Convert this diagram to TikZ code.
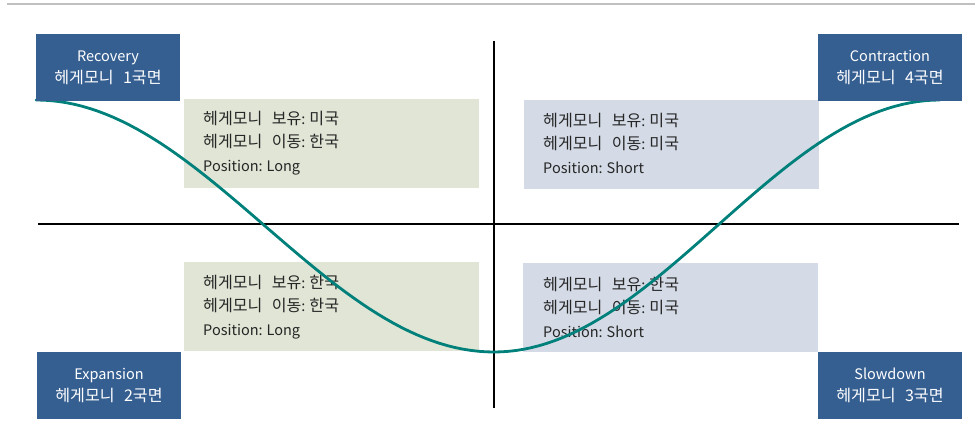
\documentclass[tikz,border=0pt]{standalone}
\usepackage{fontspec}
\setmainfont[WordSpace=2.4]{Noto Sans CJK KR}
\newfontfamily\kr[Scale=1.11,WordSpace=2.6]{Noto Sans CJK KR}
\definecolor{labelblue}{HTML}{365F91}
\definecolor{olivebox}{HTML}{E0E5D5}
\definecolor{bluebox}{HTML}{D4DBE6}
\definecolor{curveteal}{HTML}{00807A}
\definecolor{topgray}{HTML}{C0C0C0}
\definecolor{boxtext}{HTML}{262626}
\newcommand{\colsep}{:\hspace{4pt}}
\begin{document}
\begin{tikzpicture}[x=1pt,y=-1pt,
  phase/.style={fill=labelblue,text=white,minimum width=144pt,minimum height=67pt,inner sep=0pt,align=center,font=\fontsize{14.5}{22}\selectfont},
  infobox/.style={minimum width=295pt,minimum height=89pt,inner sep=0pt},
  infotext/.style={text=boxtext,align=left,anchor=west,inner sep=0pt,font=\fontsize{14.5}{23.5}\selectfont},
  axis/.style={draw=black,line width=1.5pt},
  wave/.style={draw=curveteal,line width=2.8pt,line cap=round}]
\useasboundingbox (0,0) rectangle (975,443);
% top rule
\draw[topgray,line width=2.5pt] (7,4) -- (975,4);
% info boxes
\node[infobox,fill=olivebox] (tl) at (331.5,143.5) {};
\node[infobox,fill=bluebox] (tr) at (671.5,144.5) {};
\node[infobox,fill=olivebox] (bl) at (331.5,307) {};
\node[infobox,fill=bluebox] (br) at (670.5,308) {};
\node[infotext] (tlt) at (203,143) {{\kr 헤게모니 보유}\colsep{\kr 미국}\\{\kr 헤게모니 이동}\colsep{\kr 한국}\\Position\colsep Long};
\node[infotext] (trt) at (543,143) {{\kr 헤게모니 보유}\colsep{\kr 미국}\\{\kr 헤게모니 이동}\colsep{\kr 미국}\\Position\colsep Short};
\node[infotext] (blt) at (203,307) {{\kr 헤게모니 보유}\colsep{\kr 한국}\\{\kr 헤게모니 이동}\colsep{\kr 한국}\\Position\colsep Long};
\node[infotext] (brt) at (543,307) {{\kr 헤게모니 보유}\colsep{\kr 한국}\\{\kr 헤게모니 이동}\colsep{\kr 미국}\\Position\colsep Short};
% axes
\coordinate (vtop) at (494,41);
\coordinate (vbot) at (494,408);
\coordinate (hl) at (38,224);
\coordinate (hr) at (959,224);
\draw[axis] (vtop) -- (vbot);
\draw[axis] (hl) -- (hr);
% wave
\draw[wave] plot[domain=0:180,samples=60] ({36+\x/180*458},{226-126*cos(\x)})
  -- plot[domain=180:360,samples=60] ({494+(\x-180)/180*446},{226-126*cos(\x)});
% phase labels
\node[phase] (rec) at (108,67.5) {Recovery\\{\kr 헤게모니 1국면}};
\node[phase] (con) at (890,68) {Contraction\\{\kr 헤게모니 4국면}};
\node[phase] (exp) at (109,385.5) {Expansion\\{\kr 헤게모니 2국면}};
\node[phase] (slo) at (890,385.5) {Slowdown\\{\kr 헤게모니 3국면}};
\end{tikzpicture}
\end{document}
